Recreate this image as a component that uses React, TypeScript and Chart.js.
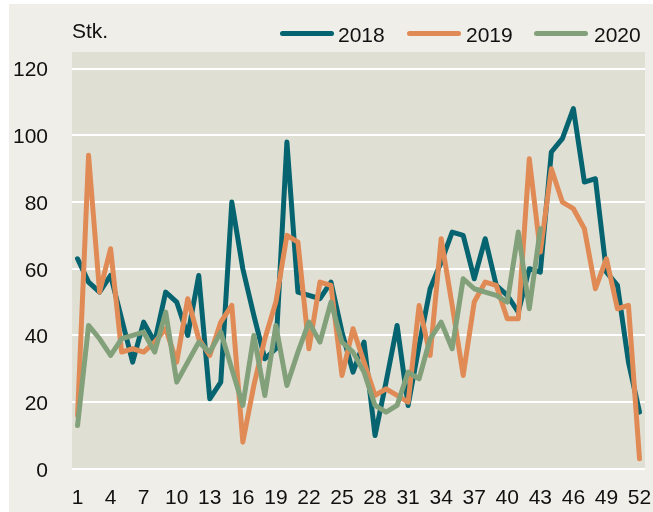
import React, { useEffect, useRef } from "react";
import { Chart, registerables } from "chart.js";

Chart.register(...registerables);

// ---- data ----
const weeks = [
  1, 2, 3, 4, 5, 6, 7, 8, 9, 10, 11, 12, 13, 14, 15, 16, 17, 18, 19, 20, 21, 22, 23, 24, 25, 26,
  27, 28, 29, 30, 31, 32, 33, 34, 35, 36, 37, 38, 39, 40, 41, 42, 43, 44, 45, 46, 47, 48, 49, 50, 51, 52,
];
const xTickWeeks = [1, 4, 7, 10, 13, 16, 19, 22, 25, 28, 31, 34, 37, 40, 43, 46, 49, 52];
const yTickValues = [0, 20, 40, 60, 80, 100, 120];
const seriesNames = ["2018", "2019", "2020"];
const unitLabel = "Stk.";

const s2018 = [
  63, 56, 53, 58, 45, 32, 44, 38, 53, 50, 40, 58, 21, 26, 80, 60, 46, 33, 36, 98, 53, 52, 51, 56, 41, 29,
  38, 10, 26, 43, 19, 37, 54, 62, 71, 70, 57, 69, 55, 52, 47, 60, 59, 95, 99, 108, 86, 87, 59, 55, 32, 17,
];
const s2019 = [
  16, 94, 53, 66, 35, 36, 35, 38, 42, 32, 51, 39, 34, 44, 49, 8, 25, 39, 50, 70, 68, 36, 56, 55, 28, 42,
  32, 22, 24, 22, 20, 49, 34, 69, 49, 28, 50, 56, 55, 45, 45, 93, 65, 90, 80, 78, 72, 54, 63, 48, 49, 3,
];
const s2020 = [
  13, 43, 39, 34, 39, 40, 41, 35, 47, 26, 32, 38, 35, 41, 30, 19, 40, 22, 43, 25, 35, 44, 38, 50, 38, 35,
  29, 19, 17, 19, 29, 27, 39, 44, 36, 57, 54, 53, 52, 50, 71, 48, 72,
];

// ---- styles ----
const COLORS = ["#05646f", "#e08a56", "#82a07a"];
const PANEL_BG = "#efeee8";
const PLOT_BG = "#e0dfd4";
const TEXT = "#111111";
const FONT = "'Liberation Sans', Arial, sans-serif";

const plotBg = {
  id: "plotBg",
  beforeDraw(chart: any) {
    const { ctx, chartArea } = chart;
    if (!chartArea) return;
    ctx.save();
    ctx.fillStyle = PLOT_BG;
    ctx.fillRect(chartArea.left, chartArea.top, chartArea.right - chartArea.left, chartArea.bottom - chartArea.top + 1);
    ctx.restore();
  },
};

export default function App() {
  const ref = useRef<HTMLCanvasElement | null>(null);

  useEffect(() => {
    if (!ref.current) return;
    const all = [s2018, s2019, s2020];
    const chart = new Chart(ref.current, {
      type: "line",
      data: {
        datasets: all.map((vals, k) => ({
          label: seriesNames[k],
          data: vals.map((v, i) => ({ x: weeks[i], y: v })),
          borderColor: COLORS[k],
          backgroundColor: COLORS[k],
          borderWidth: 5,
          pointRadius: 0,
          tension: 0,
          borderJoinStyle: "round" as const,
          borderCapStyle: "round" as const,
          order: 3 - k,
        })),
      },
      options: {
        responsive: false,
        animation: false,
        events: [],
        layout: { padding: { top: 48, left: 4, right: 8, bottom: 1 } },
        plugins: { legend: { display: false }, tooltip: { enabled: false }, title: { display: false } },
        scales: {
          x: {
            type: "linear",
            min: 0.5,
            max: 52.5,
            afterBuildTicks: (s: any) => {
              s.ticks = xTickWeeks.map((v) => ({ value: v }));
            },
            grid: {
              display: true,
              drawOnChartArea: false,
              drawTicks: true,
              tickLength: 17,
              color: "rgba(0,0,0,0)",
            },
            border: { display: false },
            ticks: {
              padding: 0,
              color: TEXT,
              autoSkip: false,
              maxRotation: 0,
              font: { family: FONT, size: 21 },
              callback: (v: any) => String(v),
            },
          },
          y: {
            type: "linear",
            min: 0,
            max: 125,
            afterBuildTicks: (s: any) => {
              s.ticks = yTickValues.map((v) => ({ value: v }));
            },
            grid: {
              color: "#ffffff",
              lineWidth: 2,
              drawTicks: true,
              tickLength: 24,
              tickColor: "rgba(0,0,0,0)",
            },
            border: { display: false },
            ticks: {
              padding: 0,
              color: TEXT,
              labelOffset: 2,
              font: { family: FONT, size: 21 },
              callback: (v: any) => String(v),
            },
          },
        },
      },
      plugins: [plotBg],
    });
    return () => chart.destroy();
  }, []);

  const legendLeft = [280, 407, 534];
  const textLeft = [338, 466, 594];

  return (
    <div style={{ position: "absolute", left: 0, top: 0, width: 653, height: 512, fontFamily: FONT }}>
      <div style={{ position: "absolute", left: 9, top: 4, width: 644, height: 508, background: PANEL_BG }}>
        <canvas ref={ref} width={644} height={508} style={{ display: "block" }} />
      </div>
      <div style={{ position: "absolute", left: 72, top: 20, fontSize: 21, lineHeight: "21px", color: TEXT }}>
        {unitLabel}
      </div>
      {seriesNames.map((name, k) => (
        <React.Fragment key={name}>
          <div
            style={{
              position: "absolute",
              left: legendLeft[k],
              top: 31,
              width: 54,
              height: 5,
              borderRadius: 2.5,
              background: COLORS[k],
            }}
          />
          <div
            style={{
              position: "absolute",
              left: textLeft[k],
              top: 24,
              fontSize: 21,
              lineHeight: "21px",
              color: TEXT,
            }}
          >
            {name}
          </div>
        </React.Fragment>
      ))}
    </div>
  );
}
